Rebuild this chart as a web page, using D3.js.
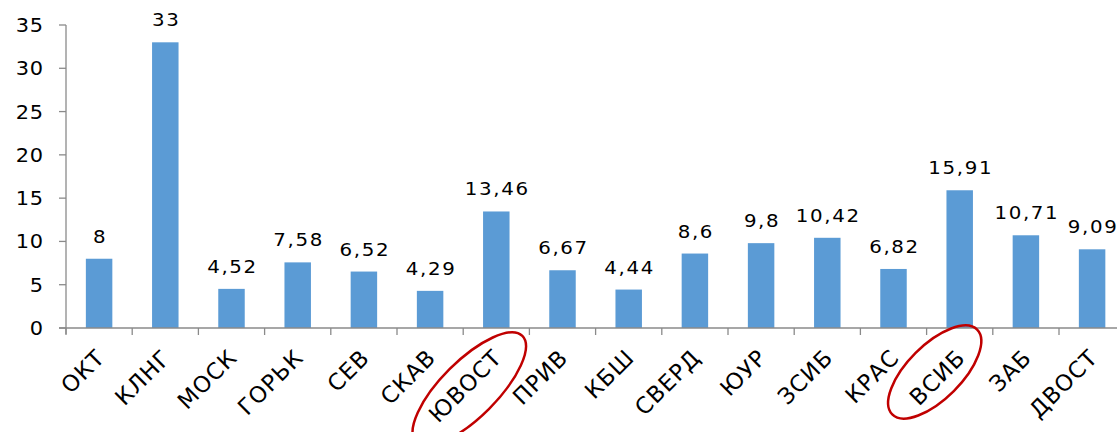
<!DOCTYPE html>
<html><head><meta charset="utf-8">
<script src="https://cdn.jsdelivr.net/npm/d3@7"></script>
<style>body{margin:0;background:#fff;overflow:hidden}svg{display:block}text{font-family:"DejaVu Sans",Verdana,sans-serif;fill:#000}</style>
</head><body>
<svg id="c" width="1117" height="432"></svg>
<script>
const categories = ["ОКТ","КЛНГ","МОСК","ГОРЬК","СЕВ","СКАВ","ЮВОСТ","ПРИВ","КБШ","СВЕРД","ЮУР","ЗСИБ","КРАС","ВСИБ","ЗАБ","ДВОСТ"];
const values = [8,33,4.52,7.58,6.52,4.29,13.46,6.67,4.44,8.6,9.8,10.42,6.82,15.91,10.71,9.09];
const yTicks = [0,5,10,15,20,25,30,35];
const highlighted = ["ЮВОСТ","ВСИБ"];

(function(){
const svg = d3.select("#c");
const left = 66, bottom = 328, topY = 25, step = 66.2;
const x = d3.scaleBand().domain(categories).range([left, left + step*categories.length]).paddingInner(0.6).paddingOuter(0.3);
const y = d3.scaleLinear().domain([0,35]).range([bottom, topY]);
const fmt = v => String(v).replace(".", ",");
const SX = 1.1;

// bars
svg.selectAll("rect.bar").data(values).enter().append("rect")
  .attr("x",(d,i)=>x(categories[i])).attr("width",x.bandwidth())
  .attr("y",d=>y(d)).attr("height",d=>y(0)-y(d)).attr("fill","#5B9BD5");

// axes
const axisColor = "#8a8a8a";
svg.append("line").attr("x1",left).attr("x2",left).attr("y1",y(35)).attr("y2",bottom+6).attr("stroke",axisColor).attr("stroke-width",1.3);
svg.append("line").attr("x1",left-7).attr("x2",left+step*categories.length).attr("y1",bottom).attr("y2",bottom).attr("stroke",axisColor).attr("stroke-width",1.3);
yTicks.forEach(t=>{
  svg.append("line").attr("x1",left-7).attr("x2",left).attr("y1",y(t)).attr("y2",y(t)).attr("stroke",axisColor).attr("stroke-width",1.3);
  svg.append("g").attr("transform",`translate(${left-22},${y(t)+7}) scale(${SX},1)`)
    .append("text").attr("text-anchor","end").attr("font-size",19).attr("letter-spacing",0.8).text(t);
});
d3.range(categories.length+1).forEach(i=>{
  const xx = left + i*step;
  svg.append("line").attr("x1",xx).attr("x2",xx).attr("y1",bottom).attr("y2",bottom+7).attr("stroke",axisColor).attr("stroke-width",1.3);
});

// value labels
values.forEach((v,i)=>{
  svg.append("g").attr("transform",`translate(${x(categories[i])+x.bandwidth()/2+1},${y(v)-16}) scale(${SX},1)`)
    .append("text").attr("text-anchor","middle").attr("font-size",18).attr("letter-spacing",1.5).text(fmt(v));
});

// category labels
categories.forEach(c=>{
  const cx = x(c)+x.bandwidth()/2;
  svg.append("g").attr("transform",`translate(${cx+7},${bottom+31}) rotate(-45)`)
    .append("text").attr("text-anchor","end").attr("font-size",22.5).attr("letter-spacing",1).text(c);
});

// highlight ellipses
const ell = {"ЮВОСТ":{dx:-27,dy:61,rx:75,ry:28,rot:-45},"ВСИБ":{dx:-25,dy:44,rx:60,ry:27,rot:-45}};
highlighted.forEach(c=>{
  const e = ell[c];
  const cx = x(c)+x.bandwidth()/2 + e.dx, cy = bottom + e.dy;
  svg.append("ellipse").attr("cx",0).attr("cy",0).attr("rx",e.rx).attr("ry",e.ry)
    .attr("transform",`translate(${cx},${cy}) rotate(${e.rot})`)
    .attr("fill","none").attr("stroke","#C00000").attr("stroke-width",2.5);
});
})();
</script>
</body></html>
